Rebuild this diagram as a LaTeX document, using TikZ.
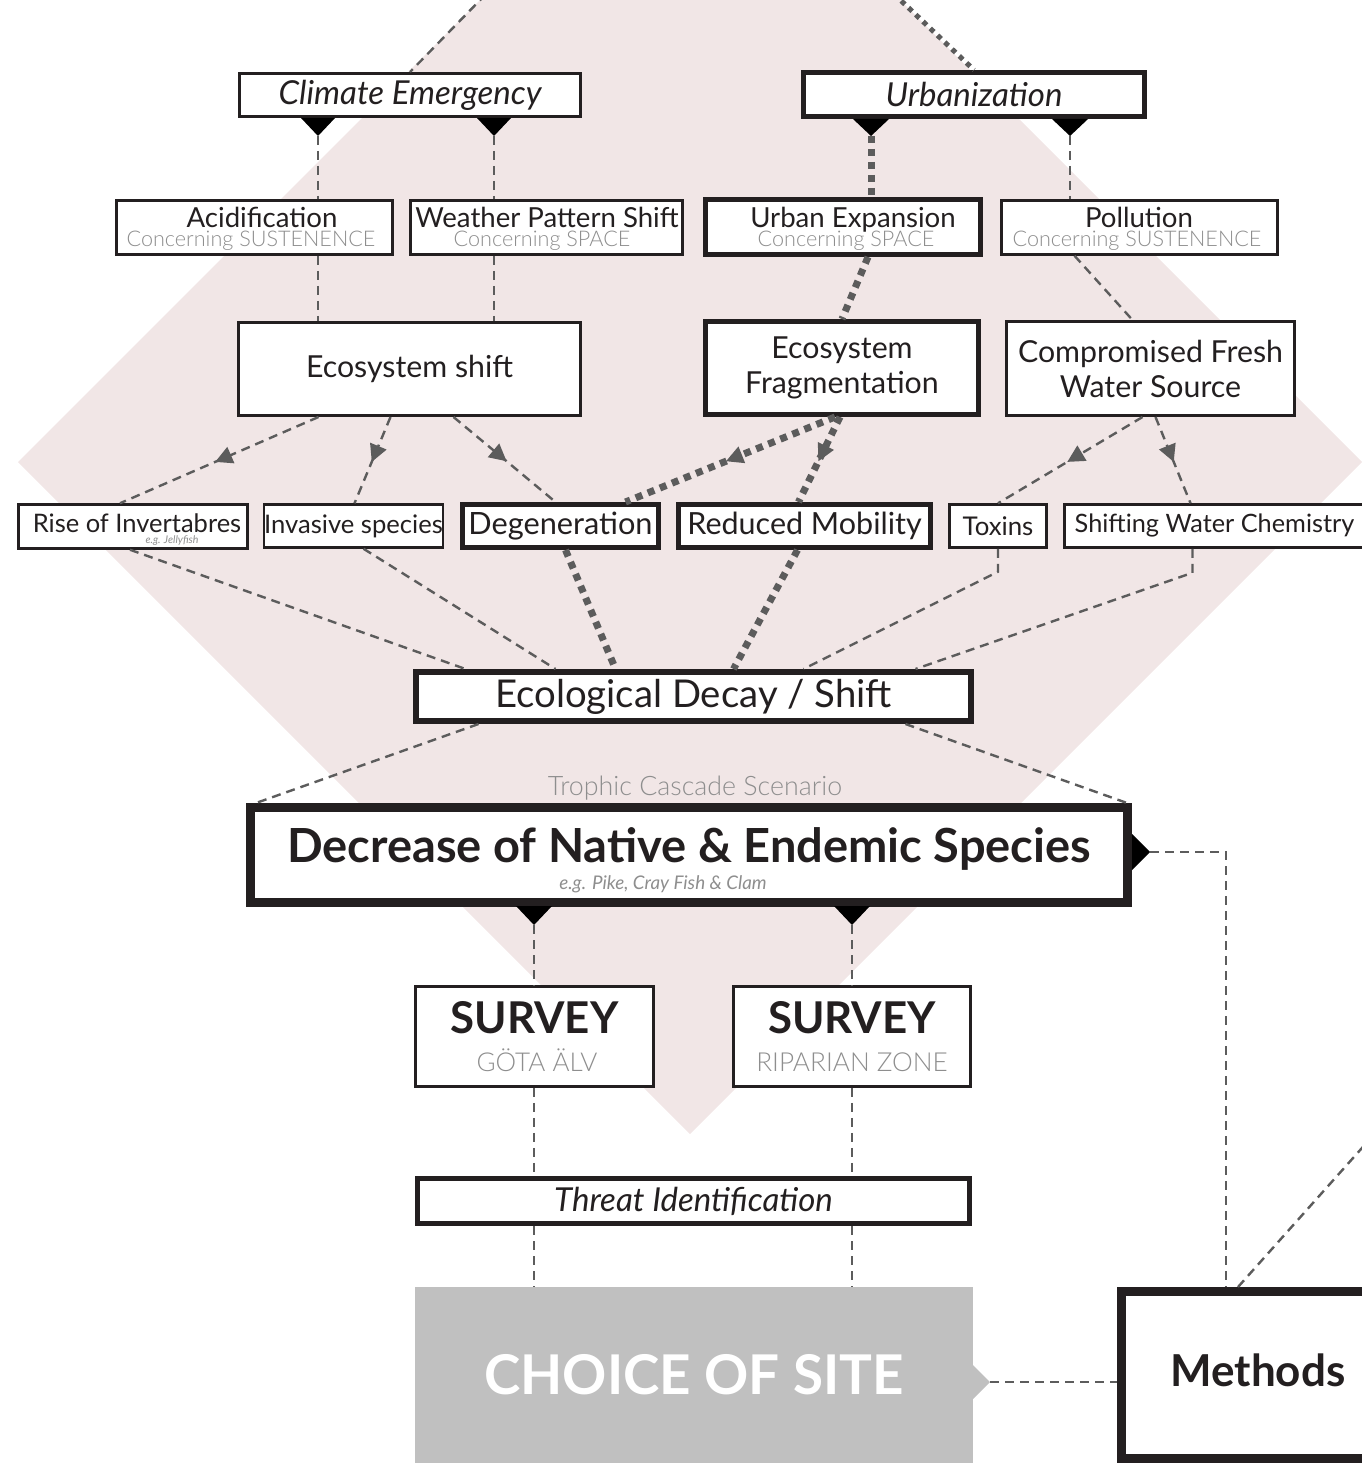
\documentclass[tikz,border=0pt]{standalone}
\usepackage{fontspec}
\setmainfont{Lato}
\newfontfamily\lightfont{Lato Light}
\usetikzlibrary{calc,arrows.meta,decorations.markings}
\definecolor{ink}{HTML}{231F20}
\definecolor{sub}{HTML}{8E8E8E}
\definecolor{lc}{HTML}{5C5C5C}
\definecolor{blush}{HTML}{F1E6E6}
\definecolor{sitegray}{HTML}{C0C0C0}
\newcommand\fsz[1]{\fontsize{#1}{#1}\selectfont}
\tikzset{
  bx/.style={draw=ink, fill=white, inner sep=0pt, text=ink},
  lwa/.style={line width=2.5pt},
  lwb/.style={line width=3pt},
  lwc/.style={line width=5pt},
  lwd/.style={line width=6pt},
  lwe/.style={line width=9pt},
  txt/.style={inner sep=0pt, text=ink},
  subtxt/.style={inner sep=0pt, text=sub},
  dashline/.style={draw=lc, line width=2.4pt, dash pattern=on 9pt off 6pt},
  dotline/.style={draw=lc, line width=7pt, dash pattern=on 7pt off 6pt},
  midarrow/.style={postaction={decorate}, decoration={markings,
      mark=at position 0.52 with {\arrow[lc]{Triangle[length=17pt,width=18pt,line width=0pt]}}}},
  tri/.style={fill=black},
}
\begin{document}
\begin{tikzpicture}[x=1pt,y=-1pt]
\useasboundingbox (0,0) rectangle (1361,1463);
% background diamond
\fill[blush] (690,-210) -- (1362,462) -- (690,1134) -- (18,462) -- cycle;

% ---------- top row ----------
\node[bx, lwb, minimum width=341pt, minimum height=43pt, font=\fsz{33}\itshape] (ce) at (410,95) {Climate Emergency};
\node[bx, lwc, minimum width=341pt, minimum height=44pt, font=\fsz{33}\itshape] (ur) at (974,94.5) {Urbanization};

% ---------- second row ----------
\node[bx, lwa, minimum width=276pt, minimum height=54pt] (ac) at (254.5,227.5) {};
\node[txt, anchor=base, font=\fsz{27.6}] (ac-a) at (262,228) {Acidification};
\node[subtxt, anchor=base, font=\lightfont\fsz{21.6}] (ac-b) at (251,247) {Concerning SUSTENENCE};

\node[bx, lwa, minimum width=272pt, minimum height=54pt] (wp) at (546.5,227.5) {};
\node[txt, anchor=base, font=\fsz{27.6}] (wp-a) at (547,228) {Weather Pattern Shift};
\node[subtxt, anchor=base, font=\lightfont\fsz{21.6}] (wp-b) at (542,247) {Concerning SPACE};

\node[bx, lwc, minimum width=275pt, minimum height=55pt] (ue) at (843,227) {};
\node[txt, anchor=base, font=\fsz{27.6}] (ue-a) at (853,228) {Urban Expansion};
\node[subtxt, anchor=base, font=\lightfont\fsz{21.6}] (ue-b) at (846,247) {Concerning SPACE};

\node[bx, lwa, minimum width=276pt, minimum height=54pt] (po) at (1139.5,227.5) {};
\node[txt, anchor=base, font=\fsz{27.6}] (po-a) at (1139,228) {Pollution};
\node[subtxt, anchor=base, font=\lightfont\fsz{21.6}] (po-b) at (1137,247) {Concerning SUSTENENCE};

% ---------- third row ----------
\node[bx, lwb, minimum width=342pt, minimum height=93pt, font=\fsz{30.3}] (es) at (409.5,369) {Ecosystem shift};
\node[bx, lwc, minimum width=273pt, minimum height=93pt, align=center, font={\fontsize{30.3}{35}\selectfont}] (ef) at (842,368) {Ecosystem\\Fragmentation};
\node[bx, lwb, minimum width=288pt, minimum height=94pt, align=center, font={\fontsize{30.3}{35}\selectfont}] (cf) at (1150.5,368.5) {Compromised Fresh\\Water Source};

% ---------- fourth row ----------
\node[bx, lwa, minimum width=229pt, minimum height=44pt] (ri) at (133,526.5) {};
\node[txt, anchor=base, font=\fsz{25.5}] (ri-a) at (137,532) {Rise of Invertabres};
\node[subtxt, anchor=base, font=\fsz{10.6}\itshape] (ri-b) at (172,543) {e.g. Jellyfish};
\node[bx, lwa, minimum width=178pt, minimum height=43pt, font=\fsz{25.6}] (iv) at (353.5,526) {Invasive species};
\node[bx, lwc, minimum width=196pt, minimum height=43pt, font=\fsz{30.7}] (dg) at (560.5,526) {Degeneration};
\node[bx, lwc, minimum width=252pt, minimum height=43pt, font=\fsz{30.5}] (rm) at (804.5,526) {Reduced Mobility};
\node[bx, lwa, minimum width=97pt, minimum height=43pt, font=\fsz{25.8}] (tx) at (998,526) {Toxins};
\node[bx, lwa, minimum width=304pt, minimum height=43pt] (sw) at (1216.5,526) {};
\node[txt, font=\fsz{25.3}] (sw-a) at (1214.5,525) {Shifting Water Chemistry};

% ---------- decay ----------
\node[bx, lwd, minimum width=555pt, minimum height=49pt, font=\fsz{38.3}] (ed) at (693.5,696.5) {Ecological Decay / Shift};
\node[subtxt, font=\lightfont\fsz{26.8}] (tc) at (695,788) {Trophic Cascade Scenario};
\node[bx, lwe, minimum width=877pt, minimum height=95pt] (dn) at (689,855) {};
\node[txt, anchor=base, font=\fsz{47}\bfseries] (dn-a) at (689,862) {Decrease of Native \& Endemic Species};
\node[subtxt, anchor=base, font=\fsz{18.8}\itshape] (dn-b) at (663,889) {e.g. Pike, Cray Fish \& Clam};

% ---------- surveys ----------
\node[bx, lwa, minimum width=238pt, minimum height=100pt] (s1) at (534.5,1036.5) {};
\node[txt, anchor=base, font=\fsz{43.8}\bfseries] (s1-a) at (534.5,1033) {SURVEY};
\node[subtxt, anchor=base, font=\lightfont\fsz{26}] (s1-b) at (537,1071) {GÖTA ÄLV};
\node[bx, lwa, minimum width=237pt, minimum height=100pt] (s2) at (852,1036.5) {};
\node[txt, anchor=base, font=\fsz{43.8}\bfseries] (s2-a) at (852,1033) {SURVEY};
\node[subtxt, anchor=base, font=\lightfont\fsz{26.2}] (s2-b) at (852,1071) {RIPARIAN ZONE};

\node[bx, lwc, minimum width=552pt, minimum height=45pt, font=\fsz{33}\itshape] (ti) at (693.5,1201) {Threat Identification};

\node[fill=sitegray, inner sep=0pt, minimum width=558pt, minimum height=176pt, text=white, font=\fsz{54.8}\bfseries] (cs) at (694,1375) {CHOICE OF SITE};
\node[bx, lwe, minimum width=273pt, minimum height=167pt] (me) at (1258,1375) {};
\node[txt, font=\fsz{44}\bfseries] (me-a) at (1258,1370) {Methods};

% ---------- pointer tips ----------
\coordinate (ceL) at (318,136);
\coordinate (ceR) at (494,136);
\coordinate (urL) at (871,136);
\coordinate (urR) at (1070,136);
\coordinate (dnL) at (534,925);
\coordinate (dnM) at (852,925);
\coordinate (dnR) at (1150,852);
\coordinate (csR) at (990,1382);
\fill[tri] (301,118) -- (335,118) -- (ceL) -- cycle;
\fill[tri] (477,118) -- (511,118) -- (ceR) -- cycle;
\fill[tri] (853,119) -- (889,119) -- (urL) -- cycle;
\fill[tri] (1052,119) -- (1088,119) -- (urR) -- cycle;
\fill[tri] (516,906) -- (552,906) -- (dnL) -- cycle;
\fill[tri] (834,906) -- (870,906) -- (dnM) -- cycle;
\fill[tri] (1132,834) -- (1132,870) -- (dnR) -- cycle;
\fill[sitegray] (972,1364) -- (972,1400) -- (csR) -- cycle;

% ---------- connectors ----------
\coordinate (edgeL) at (486,-6);
\coordinate (edgeR) at (894,-6);
\draw[dashline] (edgeL) -- (ce.north);
\draw[draw=lc, line width=5pt, dash pattern=on 5pt off 5pt] (edgeR) -- (ur.north);

\draw[dashline] (ceL) -- (ceL |- ac.north);
\draw[dashline] (ceL |- ac.south) -- (ceL |- es.north);
\draw[dashline] (ceR) -- (ceR |- wp.north);
\draw[dashline] (ceR |- wp.south) -- (ceR |- es.north);
\draw[dotline] (urL) -- (urL |- ue.north);
\draw[dotline] ($(ue.south)+(25,0)$) -- (ef.north);
\draw[dashline] (urR) -- (urR |- po.north);
\draw[dashline] ($(po.south)+(-65,0)$) -- ($(cf.north)+(-18,0)$);

\draw[dashline, midarrow] ($(es.south)+(-91,0)$) -- ($(ri.north)+(-13,0)$);
\draw[dashline, midarrow] ($(es.south)+(-19,0)$) -- ($(iv.north)+(1,0)$);
\draw[dashline, midarrow] ($(es.south)+(44,0)$) -- ($(dg.north)+(-5,0)$);
\draw[dotline, midarrow] ($(ef.south)+(-7,0)$) -- ($(dg.north)+(65,0)$);
\draw[dotline, midarrow] ($(ef.south)+(-2,0)$) -- ($(rm.north)+(-6,0)$);
\draw[dashline, midarrow] ($(cf.south)+(-8,0)$) -- (tx.north);
\draw[dashline, midarrow] ($(cf.south)+(5,0)$) -- ($(sw.north)+(-26,0)$);

\draw[dashline] ($(ri.south)+(-3,0)$) -- ($(ed.north)+(-228,0)$);
\draw[dashline] ($(iv.south)+(10,0)$) -- ($(ed.north)+(-138,0)$);
\draw[dotline] ($(dg.south)+(5,0)$) -- ($(ed.north)+(-78,0)$);
\draw[dotline] ($(rm.south)+(-7,0)$) -- ($(ed.north)+(40,0)$);
\draw[dashline] (tx.south) -- ++(0,23) -- ($(ed.north)+(110,0)$);
\draw[dashline] ($(sw.south)+(-24,0)$) -- ++(0,24) -- ($(ed.north)+(222,0)$);

\draw[dashline] ($(ed.south)+(-215,0)$) -- ($(dn.north)+(-433,0)$);
\draw[dashline] ($(ed.south)+(212,0)$) -- ($(dn.north)+(438,0)$);

\draw[dashline] (dnL) -- (dnL |- s1.north);
\draw[dashline] (dnM) -- (dnM |- s2.north);
\draw[dashline] (dnL |- s1.south) -- (dnL |- ti.north);
\draw[dashline] (dnM |- s2.south) -- (dnM |- ti.north);
\draw[dashline] (dnL |- ti.south) -- (dnL |- cs.north);
\draw[dashline] (dnM |- ti.south) -- (dnM |- cs.north);

\coordinate (mT) at ($(me.north west)+(109,0)$);
\coordinate (offR) at (1378,1130);
\draw[dashline] (dnR) -| (mT);
\draw[dashline] ($(me.north west)+(121,0)$) -- (offR);
\draw[dashline] (csR) -- (csR -| me.west);
\end{tikzpicture}
\end{document}
